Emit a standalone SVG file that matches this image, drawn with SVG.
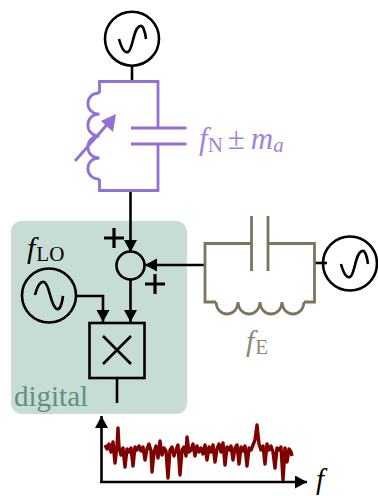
<svg xmlns="http://www.w3.org/2000/svg" width="378" height="496" viewBox="0 0 378 496">
<defs>
<marker id="arr" markerUnits="userSpaceOnUse" markerWidth="14" markerHeight="14" refX="12" refY="6.500" orient="auto"><path d="M0,0L12,6.500L0,13Z" fill="#000"/></marker>
</defs>
<style>
.k{fill:none;stroke:#000;stroke-width:2.600}
.p{fill:none;stroke:#9370d3;stroke-width:2.800}
.b{fill:none;stroke:#7d745c;stroke-width:2.800}
.t{font-family:"Liberation Serif",serif}
.i{font-style:italic}
</style>
<g id="digital"><rect x="11" y="221" width="176" height="193" rx="11" fill="#c7dcd5"/>
<text class="t" x="14" y="406" font-size="29" fill="#5f9180">digital</text></g>
<g id="connectors">
<path class="k" d="M132 66V82"/>
<path class="k" d="M130.500 190V252" marker-end="url(#arr)"/>
<path class="k" d="M205 265H145" marker-end="url(#arr)"/>
<path class="k" d="M314 263H327"/>
<path class="k" d="M77 296H103V322" marker-end="url(#arr)"/>
<path class="k" d="M130.500 279V322" marker-end="url(#arr)"/>
<path class="k" d="M117 378V403"/>
</g>
<g id="source-top"><circle class="k" cx="132" cy="38.700" r="27"/><path class="k" d="M119 39C122 50 125 53 128 52C133 50 133 28 140 26C143 25 145 31 146 39"/></g>
<g id="purple-tank">
<path class="p" d="M99.500 93V81.500H158V128M158 144V190.500H99.500V179"/>
<path class="p" d="M99.500 93C84 93 84 114 99.500 114C84 114 84 136 99.500 136C84 136 84 158 99.500 158C84 158 84 179 99.500 179"/>
<path class="p" d="M131 128H186.500M131 144H186.500"/>
<path class="p" d="M75 161L112 119"/><path d="M116 114L113 132L101 121Z" fill="#9370d3"/>
<text class="t" x="199" y="149" font-size="31" fill="#a084d8"><tspan class="i">f</tspan><tspan font-size="21" dy="3">N</tspan><tspan dy="-3" dx="5">±</tspan><tspan class="i" dx="6">m</tspan><tspan class="i" font-size="21" dy="3">a</tspan></text>
</g>
<g id="brown-tank">
<path class="b" d="M251.500 243.500H205V302H216M304 302H314.500V243.500H268"/>
<path class="b" d="M216 302C217 318 237 318 238 302C239 318 259 318 260 302C261 318 281 318 282 302C283 318 303 318 304 302"/>
<path class="b" d="M251.500 216V271M268 216V271"/>
<text class="t" x="246" y="351" font-size="30" fill="#8f8870"><tspan class="i">f</tspan><tspan font-size="21" dy="3" dx="1">E</tspan></text>
</g>
<g id="source-right"><circle class="k" cx="350" cy="263.500" r="27"/><path class="k" d="M341 264C344 275 347 278 350 277C355 275 355 253 362 251C365 250 367 256 368 264"/></g>
<g id="summer"><circle class="k" cx="130.500" cy="265.500" r="14"/>
<path fill="none" stroke="#000" stroke-width="3.200" d="M104 238H124M114 228V248M145 284H165M155 274V294"/></g>
<g id="lo"><circle class="k" cx="49" cy="295.500" r="27"/><path class="k" d="M35 295C38 284 41 281 44 282C50 284 50 306 57 309C60 310 62 304 63 296"/>
<text class="t" x="27" y="258" font-size="30" fill="#000"><tspan class="i">f</tspan><tspan font-size="21" dy="3" dx="1">LO</tspan></text></g>
<g id="mixer"><rect class="k" x="89.500" y="323" width="55" height="55"/><path class="k" d="M103 336L131 364M131 336L103 364"/></g>
<g id="plot">
<path fill="none" stroke="#800000" stroke-width="3.400" stroke-linejoin="round" d="M105 445L107 449L109 444L111 452L113 442L115 463L117 446L118 428L119 447L121 455L123 448L125 467L127 449L129 452L131 448L133 466L135 447L137 450L139 446L141 451L143 447L145 460L147 449L149 444L151 451L152 472L154 452L156 446L158 458L160 441L162 455L164 448L166 451L168 478L170 450L172 447L174 456L176 450L178 445L180 475L182 450L184 447L186 456L187 437L189 452L191 450L193 444L195 456L197 446L199 452L201 448L203 454L205 445L207 460L209 447L211 452L213 445L215 462L217 449L219 444L221 452L223 443L225 465L227 447L229 450L231 446L233 460L235 448L237 445L239 464L241 447L243 451L245 446L247 466L249 448L251 450L253 445L255 440L257 425L259 444L261 450L263 446L265 464L267 444L269 450L271 446L273 452L275 468L277 448L279 450L281 447L283 480L285 448L287 462L289 449L291 452L292 456"/>
<path class="k" d="M101.500 483V416" marker-end="url(#arr)"/>
<path class="k" d="M100 482H307" marker-end="url(#arr)"/>
<text class="t i" x="316" y="489" font-size="29" fill="#000">f</text>
</g>
</svg>
